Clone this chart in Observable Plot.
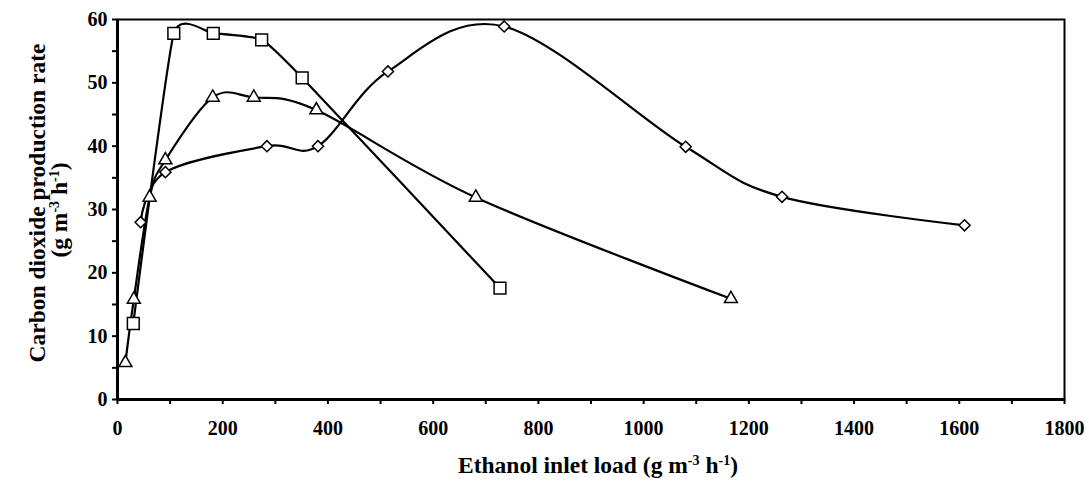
<!DOCTYPE html>
<html><head><meta charset="utf-8">
<script src="https://cdn.jsdelivr.net/npm/d3@7"></script>
<script src="https://cdn.jsdelivr.net/npm/@observablehq/plot@0.6"></script>
<style>body{margin:0;background:#fff} svg{display:block}</style>
</head><body><div id="chart"></div>
<script>
// Series: ethanol inlet load (g m-3 h-1) vs CO2 production rate
const squareLoad   = [30, 107, 182, 274, 351, 727];
const squareRate   = [12, 57.8, 57.8, 56.8, 50.8, 17.6];
const triangleLoad = [15, 31, 61, 91, 181, 259, 378, 681, 1166];
const triangleRate = [5.8, 15.8, 31.9, 37.8, 47.7, 47.7, 45.7, 31.9, 15.9];
const diamondLoad  = [44, 91, 284, 381, 514, 735, 1080, 1263, 1610];
const diamondRate  = [28, 35.9, 40, 40, 51.8, 58.9, 39.9, 32, 27.5];

const xTickLabels = [0, 200, 400, 600, 800, 1000, 1200, 1400, 1600, 1800];
const xMinorTicks = [0,100,200,300,400,500,600,700,800,900,1000,1100,1200,1300,1400,1500,1600,1700,1800];
const yTickLabels = [0, 10, 20, 30, 40, 50, 60];
const yMinorTicks = [0,5,10,15,20,25,30,35,40,45,50,55,60];

const xTitle = "Ethanol inlet load";
const yTitle = "Carbon dioxide production rate";

function toRows(xs, ys) { return xs.map((x, i) => ({x, y: ys[i]})); }
const squares = toRows(squareLoad, squareRate);
const triangles = toRows(triangleLoad, triangleRate);
const diamonds = toRows(diamondLoad, diamondRate);

const FONT = "'Liberation Serif', 'Times New Roman', serif";
const markerStyle = {fill: "#fff", stroke: "#000", strokeWidth: 1.5};
const lineStyle = {x: "x", y: "y", stroke: "#000", strokeWidth: 2.2, curve: "cardinal"};

const chart = Plot.plot({
  width: 1089, height: 485,
  marginLeft: 117, marginRight: 25, marginTop: 19, marginBottom: 86,
  style: {fontFamily: FONT, fontWeight: "bold", fontSize: "20px", color: "#000", background: "#fff"},
  x: {domain: [0, 1800], label: null},
  y: {domain: [0, 60], label: null},
  marks: [
    Plot.frame({stroke: "#000", strokeWidth: 2}),
    Plot.axisX(xMinorTicks, {tickSize: 5, tickPadding: 16, strokeWidth: 2, stroke: "#000", fill: "#000",
      tickFormat: d => xTickLabels.includes(d) ? String(d) : "", fontSize: 20, fontWeight: "bold", label: null}),
    Plot.axisY(yMinorTicks, {tickSize: 5, tickPadding: 5, strokeWidth: 2, stroke: "#000", fill: "#000",
      tickFormat: d => yTickLabels.includes(d) ? String(d) : "", fontSize: 20, fontWeight: "bold", label: null}),
    Plot.ruleX([0], {stroke: "#000", strokeWidth: 3}),
    Plot.ruleY([0], {stroke: "#000", strokeWidth: 3}),
    Plot.line(squares, {...lineStyle, tension: 0.55}),
    Plot.line(triangles, {...lineStyle, tension: 0}),
    Plot.line(diamonds, {...lineStyle, tension: 0}),
    Plot.dot(squares, {x: "x", y: "y", symbol: "square2", r: 7.5, ...markerStyle}),
    Plot.dot(triangles, {x: "x", y: "y", symbol: "triangle2", r: 6.2, ...markerStyle}),
    Plot.dot(diamonds, {x: "x", y: "y", symbol: "diamond2", r: 5, ...markerStyle})
  ]
});
document.getElementById("chart").appendChild(chart);

// Axis titles with superscript units
const svg = d3.select(chart);
function unitText(sel) {
  sel.append("tspan").text("(g m");
  sel.append("tspan").attr("dy", -8).attr("font-size", "14px").text("-3");
  sel.append("tspan").attr("dy", 8).text(" h");
  sel.append("tspan").attr("dy", -8).attr("font-size", "14px").text("-1");
  sel.append("tspan").attr("dy", 8).text(")");
}
const xt = svg.append("text")
  .attr("x", 598).attr("y", 473)
  .attr("text-anchor", "middle")
  .attr("font-family", FONT).attr("font-weight", "bold").attr("font-size", 23.5).attr("fill", "#000");
xt.append("tspan").text(xTitle + " ");
unitText(xt);

const yg = svg.append("g").attr("transform", "rotate(-90)");
yg.append("text").attr("x", -203).attr("y", 45)
  .attr("text-anchor", "middle")
  .attr("font-family", FONT).attr("font-weight", "bold").attr("font-size", 23.5).attr("fill", "#000")
  .text(yTitle);
const yu = yg.append("text").attr("x", -210).attr("y", 67)
  .attr("text-anchor", "middle")
  .attr("font-family", FONT).attr("font-weight", "bold").attr("font-size", 23.5).attr("fill", "#000");
unitText(yu);
</script>
</body></html>
